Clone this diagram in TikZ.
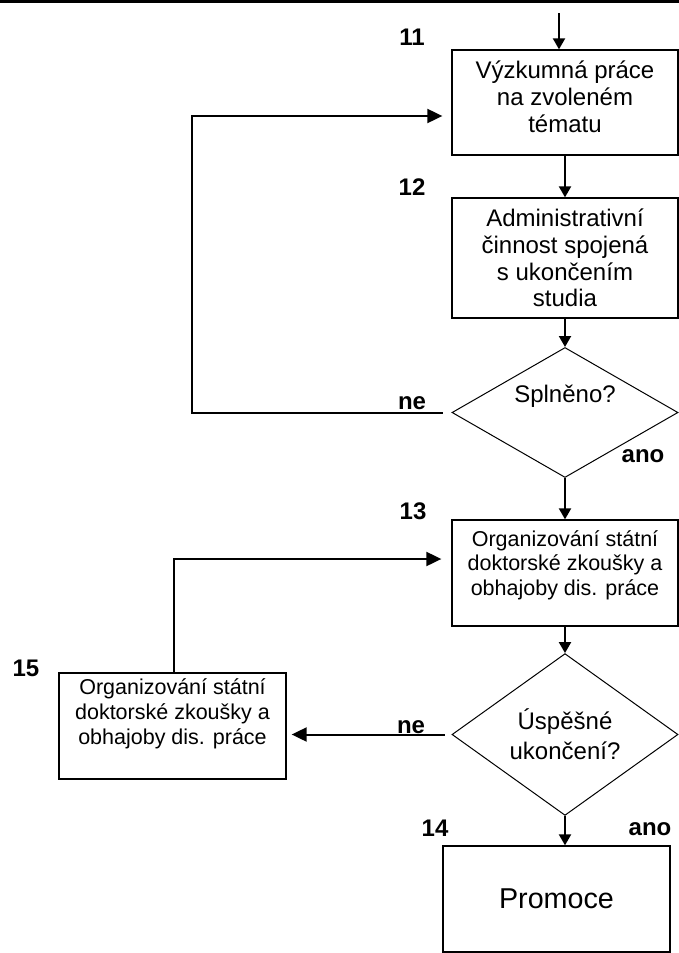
\documentclass[tikz,border=0pt]{standalone}
\usepackage{fontspec}
\setmainfont{Liberation Sans}
\usetikzlibrary{arrows.meta}
\usetikzlibrary{shapes.geometric}

\tikzset{
  krok/.style={draw, line width=1.3pt, rectangle, minimum width=226pt, align=center, inner sep=0pt},
  otazka/.style={draw, line width=1pt, diamond, minimum width=226pt, minimum height=130pt, inner sep=0pt, align=center},
  sipka/.style={line width=2pt, -{Triangle[length=11pt,width=12pt]}},
  sipkab/.style={line width=2pt, -{Triangle[length=15pt,width=14pt]}},
  popis/.style={font=\fontsize{24}{24}\selectfont\bfseries, inner sep=0pt},
}

\begin{document}
\begin{tikzpicture}[x=1pt,y=-1pt]
\useasboundingbox (0,0) rectangle (679,953);
% top rule
\draw[line width=3pt] (0,1.5) -- (679,1.5);

% steps
\node[krok, minimum height=105pt, text depth=11pt, font=\fontsize{24}{27}\selectfont] (vyzkum) at (565,102.5) {Výzkumná práce\\na zvoleném\\tématu};
\node[krok, minimum height=120pt, font=\fontsize{24}{26.7}\selectfont] (admin) at (565,258) {Administrativní\\činnost spojená\\s ukončením\\studia};
\node[otazka, font=\fontsize{24}{27}\selectfont] (splneno) at (565,412.5) {\raisebox{10pt}[0pt][0pt]{Splněno?}};
\node[krok, minimum height=106pt, text depth=20.5pt, font=\fontsize{21.5}{24.5}\selectfont] (organizace) at (565,573) {Organizování státní\\doktorské zkoušky a\\obhajoby dis. práce};
\node[otazka, minimum height=131pt, font=\fontsize{24}{30}\selectfont] (uspesne) at (565,734.5) {Úspěšné\\ukončení?};
\node[krok, minimum width=227pt, minimum height=106pt, text depth=28pt, font=\fontsize{21.5}{25}\selectfont] (opakovani) at (172.5,726) {Organizování státní\\doktorské zkoušky a\\obhajoby dis. práce};
\node[krok, minimum width=227pt, minimum height=106pt, font=\fontsize{28.7}{30}\selectfont] (promoce) at (556.5,899) {Promoce};

% numbers
\node[popis] (c11) at (412,37) {11};
\node[popis] (c12) at (412,187) {12};
\node[popis] (c13) at (413,511) {13};
\node[popis] (c14) at (435,828) {14};
\node[popis] (c15) at (26,668) {15};

% answers
\node[popis] (ne1) at (412,403) {ne};
\node[popis] (ano1) at (643,456) {ano};
\node[popis] (ne2) at (411,727) {ne};
\node[popis] (ano2) at (650,829) {ano};

% main flow
\coordinate (vstup) at (559,13);
\draw[sipka] (vstup) -- (vstup |- vyzkum.north);
\draw[sipka] (vyzkum.south) -- (admin.north);
\draw[sipka] (admin.south) -- (splneno.north);
\draw[sipka] (splneno.south) -- (organizace.north);
\draw[sipka] (organizace.south) -- (uspesne.north);
\draw[sipka] (uspesne.south) -- (uspesne.south |- promoce.north);

% loops back
\coordinate (zpet1) at (192,116);
\draw[sipkab, shorten <=9pt, shorten >=9pt] (splneno.west) -- (splneno.west -| zpet1) -- (zpet1) -- (zpet1 -| vyzkum.west);
\draw[sipkab, shorten <=7pt, shorten >=5pt] (uspesne.west) -- (uspesne.west -| opakovani.east);
\coordinate (zpet2) at (174,559);
\draw[sipkab, shorten >=10pt] (opakovani.north -| zpet2) -- (zpet2) -- (zpet2 -| organizace.west);

\end{tikzpicture}
\end{document}
